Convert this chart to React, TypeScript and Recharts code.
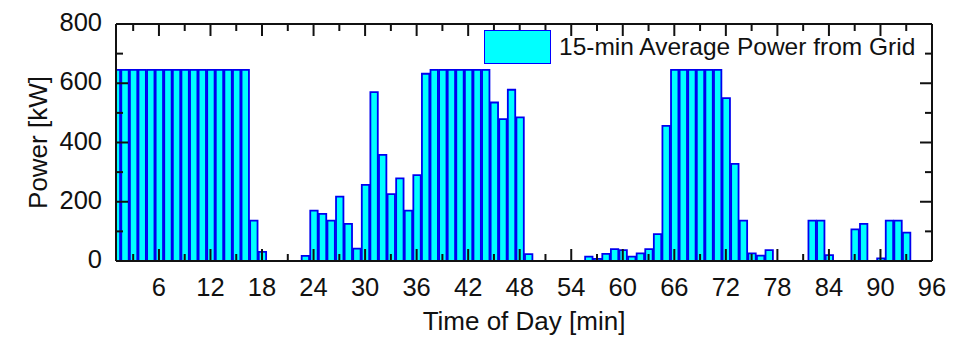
import { ComposedChart, Bar, Line, XAxis, YAxis, Legend } from "recharts";

// 15-minute slots of the day
const SLOTS = Array.from({ length: 96 }, (_, i) => i + 1);

// average power drawn from the grid per slot [kW]
const GRID_POWER = [
  645, 645, 645, 645, 645, 645, 645, 645, 645, 645, 645, 645, 645, 645, 645, 645,
  136, 31, 0, 0, 0, 0, 17, 170, 159, 136, 217, 125, 42, 257, 570, 358,
  226, 279, 170, 290, 632, 645, 645, 645, 645, 645, 645, 645, 535, 479, 578, 485,
  23, 0, 0, 0, 0, 0, 0, 15, 7, 24, 40, 37, 15, 26, 40, 91,
  456, 645, 645, 645, 645, 645, 645, 550, 328, 136, 26, 18, 37, 0, 0, 0,
  0, 136, 136, 20, 0, 0, 107, 125, 0, 9, 136, 136, 96, 0, 0, 0,
];

const X_MAJOR_TICKS = [6, 12, 18, 24, 30, 36, 42, 48, 54, 60, 66, 72, 78, 84, 90, 96];
const X_MINOR_TICKS = [3, 9, 15, 21, 27, 33, 39, 45, 51, 57, 63, 69, 75, 81, 87, 93];
const Y_MAJOR_TICKS = [0, 200, 400, 600, 800];
const Y_MINOR_TICKS = [100, 300, 500, 700];

const SERIES_NAME = "15-min Average Power from Grid";

const data = SLOTS.map((slot, i) => ({ slot, power: GRID_POWER[i] }));
const xTicks = [...X_MINOR_TICKS, ...X_MAJOR_TICKS].sort((a, b) => a - b);
const yTicks = [...Y_MINOR_TICKS, ...Y_MAJOR_TICKS].sort((a, b) => a - b);

const FONT = '"Liberation Sans", Arial, sans-serif';
const INK = "#111";
const MAJOR_LEN = 12;
const MINOR_LEN = 7;

// ticks point into the plot; majors are longer and carry the labels
function BottomTick(props: any) {
  const { x, y, payload } = props;
  const major = X_MAJOR_TICKS.includes(payload.value);
  return (
    <g>
      <line x1={x} x2={x} y1={y} y2={y - (major ? MAJOR_LEN : MINOR_LEN)} stroke={INK} strokeWidth={2} />
      {major && (
        <text x={x} y={y + 35} textAnchor="middle" fontSize={25.5} fontFamily={FONT} fill={INK}>
          {payload.value}
        </text>
      )}
    </g>
  );
}

function TopTick(props: any) {
  const { x, y, payload } = props;
  const major = X_MAJOR_TICKS.includes(payload.value);
  return <line x1={x} x2={x} y1={y} y2={y + (major ? MAJOR_LEN : MINOR_LEN)} stroke={INK} strokeWidth={2} />;
}

function LeftTick(props: any) {
  const { x, y, payload } = props;
  const major = Y_MAJOR_TICKS.includes(payload.value);
  return (
    <g>
      <line x1={x} x2={x + (major ? MAJOR_LEN : MINOR_LEN)} y1={y} y2={y} stroke={INK} strokeWidth={2} />
      {major && (
        <text x={x - 14} y={y + 7} textAnchor="end" fontSize={25.5} fontFamily={FONT} fill={INK}>
          {payload.value}
        </text>
      )}
    </g>
  );
}

function RightTick(props: any) {
  const { x, y, payload } = props;
  const major = Y_MAJOR_TICKS.includes(payload.value);
  return <line x1={x} x2={x - (major ? MAJOR_LEN : MINOR_LEN)} y1={y} y2={y} stroke={INK} strokeWidth={2} />;
}

function LegendBox() {
  return (
    <div style={{ display: "flex", alignItems: "center", fontFamily: FONT }}>
      <div
        style={{
          width: 67,
          height: 34,
          boxSizing: "border-box",
          background: "#00ffff",
          border: "1.5px solid #0000ff",
        }}
      />
      <span style={{ marginLeft: 8, fontSize: 24.5, color: INK, whiteSpace: "nowrap" }}>{SERIES_NAME}</span>
    </div>
  );
}

export default function App() {
  const axisLine = { stroke: INK, strokeWidth: 2 };
  return (
    <div style={{ width: 947, height: 331, background: "#fff", fontFamily: FONT }}>
      <ComposedChart width={947} height={331} data={data} margin={{ top: 15, right: 22, bottom: 0, left: 0 }}>
        <Bar
          xAxisId="bottom"
          yAxisId="left"
          dataKey="power"
          name={SERIES_NAME}
          fill="#00ffff"
          stroke="#0000f0"
          strokeWidth={1.8}
          barSize={7.4}
          isAnimationActive={false}
        />
        {/* invisible series so the mirrored top/right axes get drawn */}
        <Line
          xAxisId="top"
          yAxisId="right"
          dataKey="power"
          stroke="none"
          dot={false}
          activeDot={false}
          legendType="none"
          isAnimationActive={false}
        />
        <XAxis
          xAxisId="bottom"
          dataKey="slot"
          type="number"
          domain={[1, 96]}
          allowDataOverflow
          ticks={xTicks}
          interval={0}
          height={78}
          tickSize={0}
          tickMargin={0}
          tickLine={false}
          axisLine={axisLine}
          tick={BottomTick}
          label={{
            value: "Time of Day [min]",
            position: "insideBottom",
            offset: 9,
            style: { fontSize: 26, fontFamily: FONT, fill: INK },
          }}
        />
        <XAxis
          xAxisId="top"
          orientation="top"
          dataKey="slot"
          type="number"
          domain={[1, 96]}
          allowDataOverflow
          ticks={xTicks}
          interval={0}
          height={1}
          tickSize={0}
          tickMargin={0}
          tickLine={false}
          axisLine={axisLine}
          tick={TopTick}
        />
        <YAxis
          yAxisId="left"
          type="number"
          domain={[0, 800]}
          allowDataOverflow
          ticks={yTicks}
          interval={0}
          width={108}
          tickSize={0}
          tickMargin={0}
          tickLine={false}
          axisLine={axisLine}
          tick={LeftTick}
          label={{
            value: "Power [kW]",
            angle: -90,
            position: "insideLeft",
            offset: 30,
            style: { textAnchor: "middle", fontSize: 26, fontFamily: FONT, fill: INK },
          }}
        />
        <YAxis
          yAxisId="right"
          orientation="right"
          type="number"
          domain={[0, 800]}
          allowDataOverflow
          ticks={yTicks}
          interval={0}
          width={1}
          tickSize={0}
          tickMargin={0}
          tickLine={false}
          axisLine={axisLine}
          tick={RightTick}
        />
        <Legend
          layout="horizontal"
          verticalAlign="middle"
          align="center"
          wrapperStyle={{ top: 22, left: 476, width: "auto" }}
          content={() => <LegendBox />}
        />
      </ComposedChart>
    </div>
  );
}
